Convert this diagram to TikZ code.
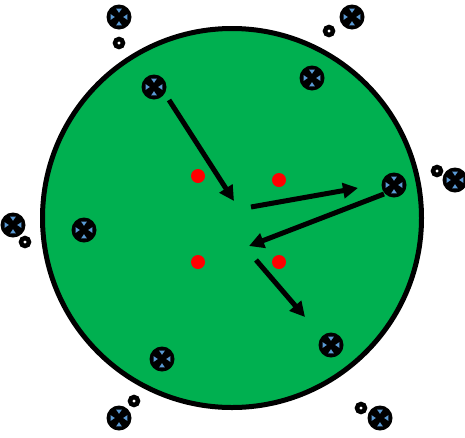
\documentclass[tikz,border=0pt]{standalone}
\usetikzlibrary{arrows.meta}
\definecolor{fieldgreen}{RGB}{0,176,80}
\definecolor{markblue}{RGB}{91,155,213}
\tikzset{
  x=1pt, y=-1pt,
  field/.style={draw=black, line width=5pt, fill=fieldgreen, circle, minimum size=379pt, inner sep=0pt},
  marker/.style={circle, fill=black, minimum size=25pt, inner sep=0pt,
    path picture={
      \begin{scope}[shift={(path picture bounding box.center)}]
        \fill[markblue] (-2.8,-8.3) -- (2.8,-8.3) -- (0,-4.2) -- cycle;
        \fill[markblue] (-2.8,8.3) -- (2.8,8.3) -- (0,4.2) -- cycle;
        \fill[markblue] (-8.3,-2.8) -- (-8.3,2.8) -- (-4.2,0) -- cycle;
        \fill[markblue] (8.3,-2.8) -- (8.3,2.8) -- (4.2,0) -- cycle;
      \end{scope}
    }},
  ring/.style={circle, draw=black, line width=4.5pt, fill=white, minimum size=8pt, inner sep=0pt},
  reddot/.style={circle, fill=red, minimum size=14pt, inner sep=0pt},
  move/.style={line width=5pt, -{Triangle[length=15pt,width=15pt]}}
}
\begin{document}
\begin{tikzpicture}
\useasboundingbox (0,0) rectangle (465,437);
\node[field] (F) at (232,218) {};
% markers
\node[marker] (m1) at (119,17) {};
\node[marker] (m2) at (352,17) {};
\node[marker] (m3) at (154,87) {};
\node[marker] (m4) at (312,78) {};
\node[marker] (m5) at (394,185) {};
\node[marker] (m6) at (455,180) {};
\node[marker] (m7) at (13,225) {};
\node[marker] (m8) at (84,230) {};
\node[marker] (m9) at (162,359) {};
\node[marker] (m10) at (331,345) {};
\node[marker] (m11) at (119,418) {};
\node[marker] (m12) at (380,418) {};
% rings
\node[ring] (r1) at (119,43) {};
\node[ring] (r2) at (329,31) {};
\node[ring] (r3) at (437,171) {};
\node[ring] (r4) at (25,242) {};
\node[ring] (r5) at (134,401) {};
\node[ring] (r6) at (361,408) {};
% red dots
\node[reddot] (d1) at (198,176) {};
\node[reddot] (d2) at (279,180) {};
\node[reddot] (d3) at (198,262) {};
\node[reddot] (d4) at (279,262) {};
% arrow coordinates
\coordinate (a1s) at (169,100);
\coordinate (a1e) at (234,201);
\coordinate (a2s) at (251,207);
\coordinate (a2e) at (358,188);
\coordinate (a3s) at (384,194);
\coordinate (a3e) at (249,246);
\coordinate (a4s) at (256,260);
\coordinate (a4e) at (305,317);
\draw[move] (a1s) -- (a1e);
\draw[move] (a2s) -- (a2e);
\draw[move] (a3s) -- (a3e);
\draw[move] (a4s) -- (a4e);
\end{tikzpicture}
\end{document}
